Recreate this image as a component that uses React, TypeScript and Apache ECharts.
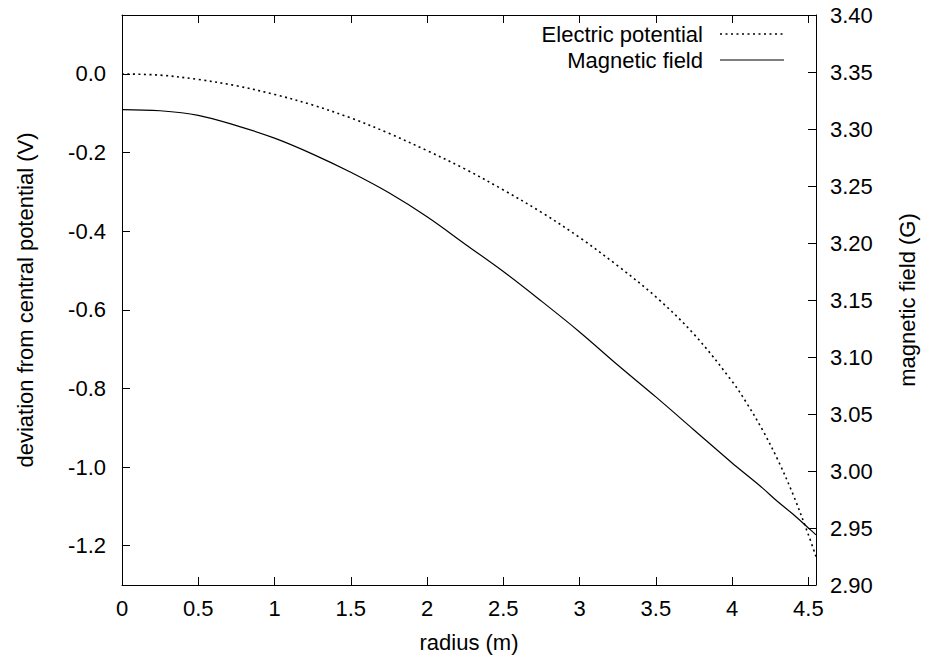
import { useEffect, useRef } from 'react';
import * as echarts from 'echarts';

const radius = [0, 0.25, 0.5, 0.75, 1, 1.25, 1.5, 1.75, 2, 2.25, 2.5, 2.75, 3, 3.25, 3.5, 3.75, 4, 4.1, 4.2, 4.3, 4.4, 4.5, 4.55];
const potential = [0, -0.003, -0.014, -0.03, -0.052, -0.079, -0.112, -0.151, -0.195, -0.242, -0.295, -0.352, -0.416, -0.488, -0.567, -0.662, -0.782, -0.84, -0.906, -0.982, -1.07, -1.172, -1.228];
const magnetic = [3.317, 3.316, 3.312, 3.303, 3.292, 3.278, 3.262, 3.244, 3.223, 3.199, 3.175, 3.149, 3.122, 3.093, 3.065, 3.036, 3.007, 2.996, 2.985, 2.973, 2.962, 2.95, 2.944];

const xTicks = [0, 0.5, 1, 1.5, 2, 2.5, 3, 3.5, 4, 4.5];
const yTicks = [-1.2, -1.0, -0.8, -0.6, -0.4, -0.2, 0];
const y2Ticks = [2.9, 2.95, 3.0, 3.05, 3.1, 3.15, 3.2, 3.25, 3.3, 3.35, 3.4];

const seriesNames = ['Electric potential', 'Magnetic field'];
const axisTitles = { x: 'radius (m)', y: 'deviation from central potential (V)', y2: 'magnetic field (G)' };

export default function App() {
  const ref = useRef<HTMLDivElement>(null);
  useEffect(() => {
    const chart = echarts.init(ref.current!, null, { renderer: 'svg' });
    const font = '"Liberation Sans", Arial, Helvetica, sans-serif';
    const fs = 22;
    const black = '#000';
    const line = { show: true, onZero: false, lineStyle: { color: black, width: 1 } };
    const tick = (vals: number[]) => ({ show: true, inside: true, length: 8, customValues: vals, lineStyle: { color: black, width: 1 } });
    const dotted = [2, 3.5];
    const legendX = 703;
    const legendRows = [34, 60];
    chart.setOption({
      animation: false,
      backgroundColor: '#fff',
      textStyle: { fontFamily: font },
      grid: { left: 122, right: 114, top: 15, bottom: 79, containLabel: false },
      graphic: [
        {
          type: 'text', x: legendX, y: legendRows[0],
          style: { text: seriesNames[0], fontSize: fs, fontFamily: font, fill: black, align: 'right', verticalAlign: 'middle' },
        },
        {
          type: 'line', shape: { x1: 720, y1: legendRows[0], x2: 784, y2: legendRows[0] },
          style: { stroke: black, lineWidth: 1.6, lineDash: dotted },
        },
        {
          type: 'text', x: legendX, y: legendRows[1],
          style: { text: seriesNames[1], fontSize: fs, fontFamily: font, fill: black, align: 'right', verticalAlign: 'middle' },
        },
        {
          type: 'line', shape: { x1: 720, y1: legendRows[1], x2: 784, y2: legendRows[1] },
          style: { stroke: black, lineWidth: 1.2 },
        },
      ],
      xAxis: [
        {
          type: 'value', min: 0, max: 4.55, position: 'bottom',
          axisLine: line, axisTick: tick(xTicks), splitLine: { show: false },
          axisLabel: { customValues: xTicks, fontSize: fs, color: black, fontFamily: font, margin: 12, formatter: (v: number) => String(v) },
          name: axisTitles.x, nameLocation: 'middle', nameGap: 46,
          nameTextStyle: { fontSize: fs, color: black, fontFamily: font },
        },
        {
          type: 'value', min: 0, max: 4.55, position: 'top',
          axisLine: line, axisTick: tick(xTicks), splitLine: { show: false },
          axisLabel: { show: false },
        },
      ],
      yAxis: [
        {
          type: 'value', min: -1.3, max: 0.15, position: 'left',
          axisLine: line, axisTick: tick(yTicks), splitLine: { show: false },
          axisLabel: { customValues: yTicks, fontSize: fs, color: black, fontFamily: font, margin: 16, formatter: (v: number) => v.toFixed(1) },
          name: axisTitles.y, nameLocation: 'middle', nameGap: 86, nameRotate: 90,
          nameTextStyle: { fontSize: fs, color: black, fontFamily: font },
        },
        {
          type: 'value', min: 2.9, max: 3.4, position: 'right',
          axisLine: line, axisTick: tick(y2Ticks), splitLine: { show: false },
          axisLabel: { customValues: y2Ticks, fontSize: fs, color: black, fontFamily: font, margin: 14, formatter: (v: number) => v.toFixed(2) },
          name: axisTitles.y2, nameLocation: 'middle', nameGap: 80, nameRotate: 90,
          nameTextStyle: { fontSize: fs, color: black, fontFamily: font },
        },
      ],
      series: [
        {
          name: seriesNames[0], type: 'line', xAxisIndex: 0, yAxisIndex: 0,
          data: radius.map((r, i) => [r, potential[i]]),
          smooth: 0.35, symbol: 'none', showSymbol: false,
          lineStyle: { color: black, width: 1.6, type: dotted },
          itemStyle: { color: black },
        },
        {
          name: seriesNames[1], type: 'line', xAxisIndex: 0, yAxisIndex: 1,
          data: radius.map((r, i) => [r, magnetic[i]]),
          smooth: 0.35, symbol: 'none', showSymbol: false,
          lineStyle: { color: black, width: 1.2, type: 'solid' },
          itemStyle: { color: black },
        },
      ],
    });
    return () => chart.dispose();
  }, []);
  return <div ref={ref} style={{ position: 'fixed', left: 0, top: 0, width: 930, height: 664 }} />;
}
